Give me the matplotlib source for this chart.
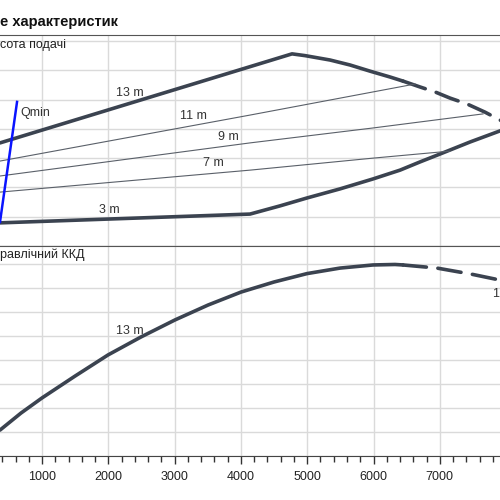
import matplotlib
matplotlib.use("Agg")
import matplotlib.pyplot as plt
from matplotlib.ticker import MultipleLocator

plt.rcParams['font.family'] = ['Liberation Sans', 'DejaVu Sans']

# ---- data ----
# flow (x) shared by both panels
x_min, x_max = 366, 7908

# head panel: curve "13 m" (upper boundary), solid part then dashed part
h13_q = [366, 4771, 4967, 5344, 5646, 5947, 6249, 6445,
         6701, 6928, 7154, 7410, 7682, 7908, 7998]
h13_h = [3.52, 6.56, 6.50, 6.35, 6.18, 5.97, 5.77, 5.63,
         5.43, 5.26, 5.05, 4.85, 4.57, 4.30, 4.20]
h13_split = 7  # index where the dashed part begins

# lower boundary: "3 m" line then max-flow curve
low_q = [366, 4137, 4590, 4997, 5495, 5993, 6400, 6701, 7003, 7455, 7908, 7998]
low_h = [0.79, 1.09, 1.37, 1.64, 1.95, 2.29, 2.59, 2.87, 3.14, 3.55, 3.93, 4.00]

h11_q = [366, 4137, 6626]
h11_h = [2.90, 4.47, 5.53]
h9_q = [366, 4137, 5993, 7652]
h9_h = [2.39, 3.52, 4.03, 4.51]
h7_q = [366, 4137, 5993, 7154]
h7_h = [1.84, 2.59, 3.00, 3.24]

qmin_q = [366, 623]
qmin_h = [0.82, 4.92]

# efficiency panel: curve "13 m"
eff_q = [366, 683, 1000, 1498, 1995, 2493, 3006, 3504, 4001, 4499, 4997,
         5495, 5993, 6324, 6445, 6958, 7471, 7908]
eff_e = [10.8, 17.9, 24.2, 33.3, 42.1, 49.6, 56.7, 62.9, 68.3, 72.5, 76.0,
         78.3, 79.6, 79.8, 79.6, 78.3, 75.8, 73.3]
eff_split = 14

head_labels = [("13 m", 2327, 5.22), ("11 m", 3278, 4.44), ("9 m", 3805, 3.72),
               ("7 m", 3579, 2.83), ("3 m", 2010, 1.23)]

dark = "#3b4350"
thin = "#5a6069"
grid_c = "#dadada"

fig = plt.figure(figsize=(5, 5), dpi=100)
ax1 = fig.add_axes([0, 0.508, 1, 0.422])
ax2 = fig.add_axes([0, 0.088, 1, 0.420])

for ax in (ax1, ax2):
    ax.set_xlim(x_min, x_max)
    ax.xaxis.set_major_locator(MultipleLocator(1000))
    ax.xaxis.set_minor_locator(MultipleLocator(200))
    ax.grid(True, which="major", color=grid_c, lw=1.0)
    ax.set_axisbelow(True)
    ax.spines["left"].set_visible(False)
    ax.spines["right"].set_visible(False)
    ax.spines["top"].set_color("#555555")
    ax.spines["bottom"].set_color("#444444")
    ax.set_yticklabels([])
    ax.tick_params(axis="y", length=0)

# head panel
ax1.set_ylim(0, 7.204)
ax1.yaxis.set_major_locator(MultipleLocator(1))
ax1.tick_params(axis="x", which="both", length=0, labelbottom=False)

ax1.plot(h13_q[:h13_split + 1], h13_h[:h13_split + 1], color=dark, lw=2.6,
         solid_capstyle="round", solid_joinstyle="round")
ax1.plot(h13_q[h13_split:], h13_h[h13_split:], color=dark, lw=2.6,
         dashes=(6.5, 3.2), dash_capstyle="round")
ax1.plot(low_q, low_h, color=dark, lw=2.6, solid_capstyle="round",
         solid_joinstyle="round")
for q, h in [(h11_q, h11_h), (h9_q, h9_h), (h7_q, h7_h)]:
    ax1.plot(q, h, color=thin, lw=0.8)
ax1.plot(qmin_q, qmin_h, color="#0a14ff", lw=1.8)
ax1.text(668, 4.54, "Qmin", fontsize=9, color="#333333", ha="left", va="center")
for txt, q, h in head_labels:
    ax1.text(q, h, txt, fontsize=9, color="#333333", ha="center", va="center")

# efficiency panel
ax2.set_ylim(0, 87.5)
ax2.yaxis.set_major_locator(MultipleLocator(10))
ax2.plot(eff_q[:eff_split + 1], eff_e[:eff_split + 1], color=dark, lw=2.6,
         solid_capstyle="round", solid_joinstyle="round")
ax2.plot(eff_q[eff_split:], eff_e[eff_split:], color=dark, lw=2.6,
         dashes=(6.5, 3.2), dash_capstyle="round")
ax2.text(2327, 52.1, "13 m", fontsize=9, color="#333333", ha="center", va="center")
ax2.text(7801, 67.5, "13 m", fontsize=9, color="#333333", ha="left", va="center")
ax2.tick_params(axis="x", which="major", length=6, width=1, color="#333333",
                labelsize=9, pad=5, labelcolor="#222222")
ax2.tick_params(axis="x", which="minor", length=4.2, width=1, color="#333333")

fig.text(0, 0.956, "е характеристик", fontsize=10.5, fontweight="bold",
         ha="left", va="center", color="#111111")
fig.text(0, 0.91, "сота подачі", fontsize=9, ha="left", va="center", color="#222222")
fig.text(0, 0.49, "равлічний ККД", fontsize=9, ha="left", va="center", color="#222222")

fig.savefig("out.png", dpi=100)
